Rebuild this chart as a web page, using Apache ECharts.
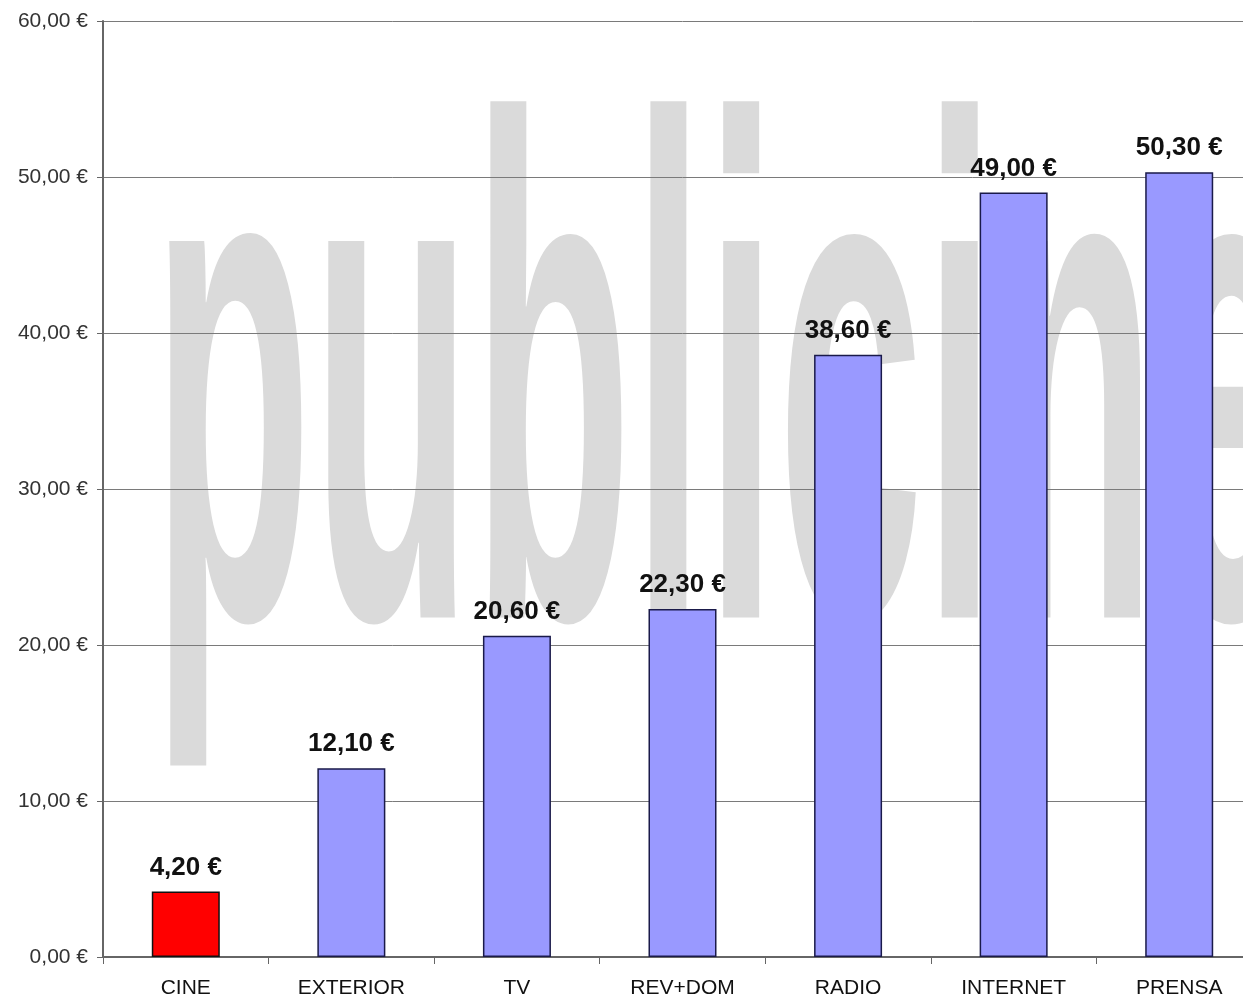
<!DOCTYPE html>
<html><head><meta charset="utf-8">
<script src="https://cdn.jsdelivr.net/npm/echarts@6/dist/echarts.min.js"></script>
<style>html,body{margin:0;padding:0;background:#fff;overflow:hidden}#c{width:1262px;height:1001px}</style>
</head><body><div id="c"></div>
<script>
const categories = ['CINE','EXTERIOR','TV','REV+DOM','RADIO','INTERNET','PRENSA'];
const values = [4.2, 12.1, 20.6, 22.3, 38.6, 49.0, 50.3];
const highlightIndex = 0;
const yTicks = {min: 0, max: 60, interval: 10};
const watermark = 'publicine';

const fmt = v => v.toFixed(2).replace('.', ',') + ' €';
const chart = echarts.init(document.getElementById('c'));
chart.setOption({
  animation: false,
  backgroundColor: '#fff',
  graphic: [{
    type: 'text', z: -10, silent: true,
    x: 152, y: 421, scaleY: 2.72, scaleX: 1,
    style: {x: 0, y: 0, text: watermark, fontSize: 262, fontWeight: 'bold',
      fontFamily: 'Liberation Sans', fill: '#dadada', verticalAlign: 'middle', align: 'left'}
  }],
  grid: {left: 103, right: 0, top: 21, bottom: 44, containLabel: false},
  xAxis: {
    type: 'category', data: categories,
    axisLine: {lineStyle: {color: '#666', width: 2}},
    axisTick: {show: true, length: 7, lineStyle: {color: '#666'}},
    axisLabel: {color: '#111', fontSize: 21, margin: 21, fontFamily: 'Liberation Sans'}
  },
  yAxis: {
    type: 'value', min: yTicks.min, max: yTicks.max, interval: yTicks.interval,
    axisLine: {show: true, lineStyle: {color: '#666', width: 2}},
    axisTick: {show: true, length: 6, lineStyle: {color: '#666'}},
    splitLine: {lineStyle: {color: '#7a7a7a', width: 1}},
    axisLabel: {color: '#333', fontSize: 21, margin: 15, fontFamily: 'Liberation Sans', formatter: fmt}
  },
  series: [{
    type: 'bar', barWidth: 68,
    data: values.map((v, i) => ({value: v, itemStyle: i === highlightIndex ?
      {color: '#ff0000', borderColor: '#111', borderWidth: 1.5} :
      {color: '#9999ff', borderColor: '#1a1a4a', borderWidth: 1.5}})),
    label: {show: true, position: 'top', distance: 11, formatter: p => fmt(p.value),
      color: '#111', fontSize: 26, fontWeight: 'bold', fontFamily: 'Liberation Sans'}
  }]
});
</script></body></html>
